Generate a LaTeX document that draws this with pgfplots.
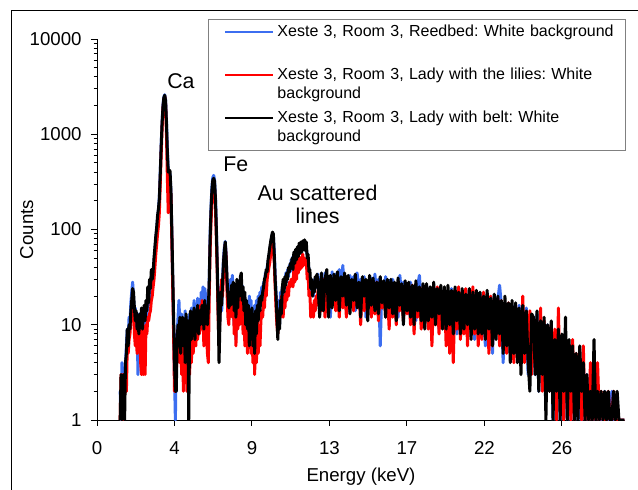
\documentclass[border=0pt]{standalone}
\usepackage{fontspec}
\setmainfont{Liberation Sans}
\usepackage{pgfplots}
\usepackage{pgfplotstable}
\pgfplotsset{compat=1.18}

\definecolor{reedblue}{RGB}{60,110,240}
\definecolor{lilyred}{RGB}{255,0,0}

% energy (keV), counts: b = Reedbed, r = Lady with the lilies, k = Lady with belt
\pgfplotstableread{
x b r k
1.30 2 1 1
1.35 1 3 3
1.40 4 1 1
1.45 1 3 2
1.50 3 1 3
1.55 2 2 1
1.60 4 3 4
1.65 6 2 5
1.70 9 6 9
1.75 7 5 6
1.80 12 7 10
1.85 10 8 9
1.90 17 11 14
1.95 22 14 18
2.00 28 20 24
2.05 20 16 22
2.10 12 8 15
2.15 15 6 11
2.20 6 9 14
2.25 11 5 9
2.30 3 12 12
2.35 13 7 8
2.40 5 10 13
2.45 12 4 10
2.50 9 3 15
2.55 14 11 9
2.60 10 3 13
2.65 13 9 16
2.70 8 3 11
2.75 15 10 18
2.80 12 8 14
2.85 18 12 25
2.90 16 11 17
2.95 22 13 30
3.00 20 14 24
3.05 28 18 38
3.10 26 20 30
3.15 35 25 36
3.20 45 30 50
3.25 60 40 65
3.30 80 55 85
3.35 100 70 105
3.40 130 90 140
3.45 160 110 165
3.50 220 150 210
3.55 400 300 380
3.60 750 600 720
3.65 1300 1100 1250
3.70 2000 1800 1900
3.75 2450 2300 2400
3.80 2600 2500 2570
3.85 2300 2100 2250
3.90 1400 1000 1300
3.95 700 350 650
4.00 420 150 400
4.05 400 170 420
4.10 380 320 410
4.15 250 220 260
4.20 90 80 100
4.25 30 25 35
4.30 10 8 12
4.35 3 2 4
4.40 1 2 2
4.45 5 3 2
4.50 8 6 7
4.55 12 5 10
4.60 18 9 6
4.65 10 4 12
4.70 7 11 5
4.75 13 3 9
4.80 5 8 12
4.85 11 2 6
4.90 6 9 10
4.95 14 3 4
5.00 4 7 13
5.05 12 2 5
5.10 3 10 11
5.15 9 5 1
5.20 13 3 9
5.25 7 9 14
5.30 15 4 7
5.35 6 12 13
5.40 11 5 10
5.45 18 8 15
5.50 8 12 7
5.55 16 6 12
5.60 10 14 9
5.65 19 7 16
5.70 9 11 8
5.75 17 8 14
5.80 12 16 10
5.85 22 9 13
5.90 11 18 16
5.95 25 12 15
6.00 14 6 9
6.05 24 15 18
6.10 20 10 12
6.15 18 8 14
6.20 14 5 10
6.25 12 4 15
6.30 30 20 28
6.35 90 60 80
6.40 170 120 160
6.45 280 200 260
6.50 350 270 330
6.55 370 290 345
6.60 330 260 320
6.65 220 170 210
6.70 110 80 100
6.75 45 35 40
6.80 18 12 15
6.85 8 6 4
6.90 12 15 10
6.95 25 20 22
7.00 14 30 16
7.05 30 20 28
7.10 50 35 45
7.15 65 55 60
7.20 75 70 74
7.25 55 50 50
7.30 28 22 30
7.35 18 12 20
7.40 24 10 15
7.45 12 18 22
7.50 30 14 16
7.55 20 25 26
7.60 33 12 18
7.65 16 22 28
7.70 10 8 14
7.75 25 18 24
7.80 7 6 12
7.85 18 20 30
7.90 12 9 15
7.95 22 15 26
8.00 14 10 20
8.05 28 20 32
8.10 18 12 35
8.15 26 22 18
8.20 12 8 25
8.25 20 16 14
8.30 9 6 22
8.35 17 14 10
8.40 6 10 18
8.45 15 5 9
8.50 8 12 16
8.55 20 7 6
8.60 10 14 13
8.65 18 5 8
8.70 7 12 15
8.75 14 4 6
8.80 9 11 12
8.85 16 3 5
8.90 11 9 14
8.95 18 4 8
9.00 8 12 16
9.05 20 5 11
9.10 13 8 19
9.15 22 6 14
9.20 16 11 20
9.25 25 14 18
9.30 18 12 22
9.35 28 18 25
9.40 22 15 30
9.45 35 25 32
9.50 30 20 38
9.55 40 30 36
9.60 45 35 48
9.65 50 40 55
9.70 60 45 65
9.75 70 55 75
9.80 80 65 85
9.85 90 70 94
9.90 85 60 90
9.95 60 45 55
10.00 35 25 30
10.05 22 15 20
10.10 15 10 12
10.15 12 8 7
10.20 18 12 14
10.25 10 14 9
10.30 22 12 18
10.35 15 20 13
10.40 25 15 24
10.45 18 12 30
10.50 30 20 22
10.55 24 15 32
10.60 35 22 26
10.65 28 18 35
10.70 38 25 30
10.75 32 20 40
10.80 42 28 36
10.85 36 25 44
10.90 48 30 40
10.95 40 30 50
11.00 52 25 38
11.05 45 38 58
11.10 58 28 44
11.15 50 45 62
11.20 62 30 48
11.25 55 48 66
11.30 65 35 52
11.35 60 52 72
11.40 68 38 56
11.45 62 50 74
11.50 70 40 58
11.55 65 55 76
11.60 72 42 62
11.65 66 50 78
11.70 70 45 60
11.75 60 48 74
11.80 55 30 50
11.85 45 35 55
11.90 38 20 36
11.95 30 22 38
12.00 26 12 24
12.05 22 16 30
12.10 28 16 20
12.15 20 12 26
12.20 30 18 22
12.25 24 14 32
12.30 32 20 25
12.35 26 16 34
12.40 34 22 28
12.5 15 28 12
12.6 32 14 35
12.7 18 30 14
12.8 35 12 30
12.9 14 26 38
13.0 30 16 12
13.1 12 32 33
13.2 36 18 15
13.3 20 30 34
13.4 34 14 18
13.5 16 28 36
13.6 38 12 14
13.7 22 30 32
13.8 42 15 20
13.9 18 26 35
14.0 30 12 16
14.1 14 28 33
14.2 33 16 13
14.3 20 24 30
14.4 32 14 18
14.5 14 30 34
14.6 35 16 15
14.7 24 26 28
14.8 30 10 12
14.9 16 28 32
15.0 32 14 20
15.1 12 24 30
15.2 28 18 11
15.3 18 30 33
15.4 31 12 16
15.5 15 26 31
15.6 34 13 14
15.7 20 28 28
15.8 30 11 13
15.9 6 25 32
16.0 28 15 17
16.1 16 27 29
16.2 32 12 12
16.3 22 24 30
16.4 29 9 15
16.5 14 27 30
16.6 30 12 13
16.7 18 25 28
16.8 26 10 11
16.9 12 28 31
17.0 33 14 16
17.1 20 24 27
17.2 28 11 10
17.3 15 26 29
17.4 27 13 14
17.5 13 24 28
17.6 28 10 12
17.7 17 26 26
17.8 25 8 10
17.9 11 23 29
18.0 26 12 14
18.1 33 22 25
18.2 16 9 11
18.3 24 25 27
18.4 12 11 9
18.5 26 23 27
18.6 13 9 11
18.7 23 24 25
18.8 10 6 12
18.9 25 22 28
19.0 15 10 10
19.1 22 25 24
19.2 9 8 13
19.3 24 21 26
19.4 14 11 9
19.5 23 24 25
19.6 11 6 9
19.7 21 22 26
19.8 9 5 10
19.9 24 20 23
20.0 12 4 8
20.1 22 23 25
20.2 8 9 11
20.3 20 25 22
20.4 13 7 8
20.5 21 22 24
20.6 10 8 9
20.7 23 24 21
20.8 8 6 10
20.9 19 21 24
21.0 11 9 7
21.1 22 25 22
21.2 7 8 9
21.3 20 21 23
21.4 10 6 8
21.5 21 20 22
21.6 9 7 8
21.7 18 22 20
21.8 6 9 7
21.9 19 18 23
22.0 8 5 9
22.1 17 20 19
22.2 5 6 6
22.3 20 17 21
22.4 9 8 7
22.5 18 19 20
22.6 26 6 8
22.7 16 18 18
22.8 4 7 5
22.9 17 16 20
23.0 7 5 6
23.1 15 17 17
23.2 5 6 4
23.3 16 14 18
23.4 6 4 5
23.5 14 16 17
23.6 5 6 4
23.7 16 13 15
23.8 4 5 3
23.9 13 20 16
24.0 6 4 5
24.1 15 12 14
24.2 3 5 4
24.3 12 14 2
24.4 5 3 13
24.5 11 12 12
24.6 3 4 3
24.7 13 10 14
24.8 2 3 2
24.9 10 15 11
25.0 4 2 3
25.1 9 11 12
25.2 2 3 1
25.3 10 8 10
25.4 3 2 2
25.5 9 10 11
25.6 1 2 1
25.7 8 9 7
25.8 2 1 2
25.9 7 15 9
26.0 1 2 1
26.1 6 7 8
26.2 2 1 2
26.3 5 6 12
26.4 1 2 1
26.5 6 5 7
26.6 1 1 2
26.7 5 7 6
26.8 2 1 1
26.9 4 5 5
27.0 1 2 1
27.1 3 4 6
27.2 1 1 2
27.3 4 6 4
27.4 1 1 1
27.5 3 2 3
27.6 1 1 1
27.7 2 4 2
27.8 1 1 1
27.9 2 3 7
28.0 1 1 1
28.1 2 4 2
28.2 1 1 1
28.3 1 2 2
28.4 1 1 1
28.5 2 1 2
28.6 1 1 1
28.7 1 2 2
28.8 1 1 1
28.9 2 1 1
29.0 1 2 2
29.1 1 1 1
29.2 1 1 2
29.3 1 1 1
29.4 1 1 1
29.5 1 1 1
29.6 1 1 1
}\spectra

\begin{document}
\hyphenpenalty=10000
\frenchspacing
\begin{tikzpicture}
\useasboundingbox (-72.75pt,-51.75pt) rectangle (405.75pt,315pt);
% chart area frame (cut off at right and bottom)
\draw[line width=0.75pt] (-63.75pt,-60pt) -- (-63.75pt,306.75pt) -- (420pt,306.75pt);
\begin{axis}[
    scale only axis,
    width=396pt, height=285.75pt,
    at={(0pt,0pt)}, anchor=south west,
    xmin=0, xmax=29.64,
    ymode=log, ymin=1, ymax=10000,
    axis x line*=bottom, axis y line*=left,
    axis line style={-, line width=0.75pt},
    tick align=outside,
    major tick length=4.5pt, minor tick length=2.5pt,
    tick style={black, line width=0.75pt},
    xtick={0,4.35,8.7,13.05,17.4,21.75,26.1},
    xticklabels={0,4,9,13,17,22,26},
    ytick={1,10,100,1000,10000},
    yticklabels={1,10,100,1000,10000},
    minor ytick={2,3,4,5,6,7,8,9,20,30,40,50,60,70,80,90,200,300,400,500,600,700,800,900,2000,3000,4000,5000,6000,7000,8000,9000},
    /pgf/number format/assume math mode=true,
    tick label style={font=\fontsize{14}{16}\selectfont},
    xticklabel style={yshift=-8pt},
    yticklabel style={xshift=-3.5pt},
    xlabel={Energy (keV)}, ylabel={Counts},
    label style={font=\fontsize{14}{16}\selectfont},
    xlabel style={at={(axis description cs:0.5,-0.1627)}, anchor=base},
    ylabel style={at={(axis description cs:-0.1212,0.5)}, anchor=base},
    legend style={at={(axis description cs:0.2102,1.0525)}, anchor=north west,
        draw=black!50, line width=0.75pt, fill=white,
        inner xsep=3pt, inner ysep=0.73pt, row sep=0pt, column sep=2.25pt,
        font=\fontsize{12}{14.25}\selectfont,
        nodes={inner sep=0pt, text height=11.8pt, text depth=20.5pt, text width=258pt, align=left},
        cells={anchor=base west}},
    legend image code/.code={
        \path[draw=none, fill=none] (0pt,0pt) rectangle (45.75pt,3.5pt);
        \draw[#1, line width=1.5pt] (9.75pt,3.5pt) -- (45.75pt,3.5pt);},
]
\addplot[reedblue, line width=2.25pt, line join=round] table[x=x, y=b] {\spectra};
\addlegendentry{Xeste 3, Room 3, Reedbed: White background}
\addplot[lilyred, line width=2.25pt, line join=round] table[x=x, y=r] {\spectra};
\addlegendentry{Xeste 3, Room 3, Lady with the lilies: White background}
\addplot[black, line width=2.25pt, line join=round] table[x=x, y=k] {\spectra};
\addlegendentry{Xeste 3, Room 3, Lady with belt: White background}

\node[font=\fontsize{16}{19}\selectfont, anchor=base] at (axis cs:4.71,3040) {Ca};
\node[font=\fontsize{16}{19}\selectfont, anchor=base] at (axis cs:7.79,402) {Fe};
\node[font=\fontsize{16}{19}\selectfont, anchor=base] at (axis cs:12.38,204) {Au scattered};
\node[font=\fontsize{16}{19}\selectfont, anchor=base] at (axis cs:12.38,117) {lines};
\end{axis}
\end{tikzpicture}
\end{document}
